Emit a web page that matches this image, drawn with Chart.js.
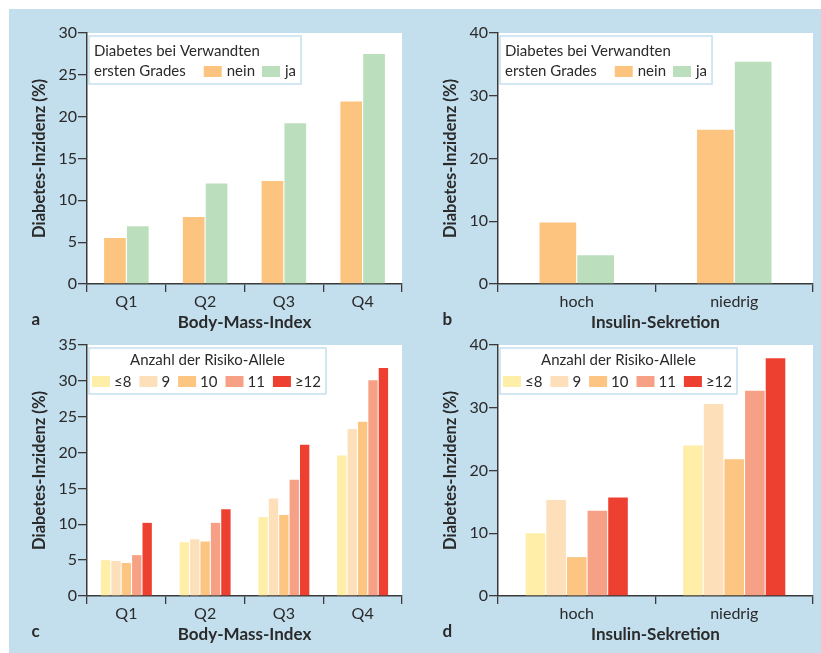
<!DOCTYPE html>
<html>
<head>
<meta charset="utf-8">
<script src="https://cdn.jsdelivr.net/npm/chart.js@4.4.1/dist/chart.umd.min.js"></script>
<style>
  body { margin: 0; background: #ffffff; }
  #wrap { position: relative; width: 821px; height: 653px; overflow: hidden; }
  #bg { position: absolute; left: 9px; top: 9px; width: 812px; height: 644px; background: #c3dfee; }
  .panel { position: absolute; width: 410px; height: 336px; }
</style>
</head>
<body>
<div id="wrap">
  <div id="bg"></div>
  <div class="panel" style="left:0;top:0"><canvas id="chartA" width="410" height="336"></canvas></div>
  <div class="panel" style="left:411px;top:0"><canvas id="chartB" width="410" height="336"></canvas></div>
  <div class="panel" style="left:0;top:312px"><canvas id="chartC" width="410" height="336"></canvas></div>
  <div class="panel" style="left:411px;top:312px"><canvas id="chartD" width="410" height="336"></canvas></div>
</div>
<script>
// Categories
const bmiQuartiles = ['Q1', 'Q2', 'Q3', 'Q4'];
const insulinLevels = ['hoch', 'niedrig'];

// Legend labels
const familyLabels = ['nein', 'ja'];
const familyLegendTitle = ['Diabetes bei Verwandten', 'ersten Grades'];
const alleleLabels = ['≤8', '9', '10', '11', '≥12'];
const alleleLegendTitle = 'Anzahl der Risiko-Allele';

// a: BMI x family history
const bmiNein = [5.5, 8.0, 12.3, 21.8];
const bmiJa = [6.9, 12.0, 19.2, 27.5];

// b: insulin secretion x family history
const insulinNein = [9.8, 24.6];
const insulinJa = [4.6, 35.4];

// c: BMI x risk alleles (one array per allele group)
const bmiAllele8 = [5.0, 7.5, 11.0, 19.6];
const bmiAllele9 = [4.9, 7.9, 13.6, 23.3];
const bmiAllele10 = [4.6, 7.6, 11.3, 24.3];
const bmiAllele11 = [5.7, 10.2, 16.2, 30.1];
const bmiAllele12 = [10.2, 12.1, 21.1, 31.8];

// d: insulin secretion x risk alleles
const insAllele8 = [10.0, 24.0];
const insAllele9 = [15.3, 30.6];
const insAllele10 = [6.2, 21.8];
const insAllele11 = [13.6, 32.7];
const insAllele12 = [15.7, 37.9];

const familyColors = ['#fdc480', '#bbdfbd'];
const alleleColors = ['#feeea8', '#fddfba', '#fdc582', '#f6a186', '#ee4030'];
const textColor = '#2a2a2a';
const axisColor = '#3a3a3a';
const legendBorder = '#c3dfee';

// White plot area, legend box and panel letter
const panelDecor = {
  id: 'panelDecor',
  beforeDraw(chart) {
    const { ctx, chartArea: a } = chart;
    ctx.save();
    ctx.fillStyle = '#ffffff';
    ctx.fillRect(a.left, a.top, a.right - a.left, a.bottom - a.top);
    ctx.restore();
  },
  afterDraw(chart, args, opts) {
    const { ctx, chartArea: a } = chart;
    const sets = chart.data.datasets;
    ctx.save();
    ctx.fillStyle = textColor;
    ctx.textBaseline = 'alphabetic';
    ctx.font = 'bold 17px Lato';
    ctx.fillText(opts.letter, 31.5, 325);

    ctx.font = '15px Lato';
    const x0 = a.left + 2;
    const y0 = a.top + 3;
    if (opts.kind === 'family') {
      const w2 = ctx.measureText(familyLegendTitle[1]).width;
      let rowW = w2 + 18;
      sets.forEach(d => { rowW += 18 + 5 + ctx.measureText(d.label).width + 7; });
      const w = Math.max(ctx.measureText(familyLegendTitle[0]).width, rowW - 7) + 10;
      ctx.fillStyle = '#ffffff';
      ctx.fillRect(x0, y0, w, 48);
      ctx.strokeStyle = legendBorder;
      ctx.lineWidth = 1.5;
      ctx.strokeRect(x0, y0, w, 48);
      ctx.fillStyle = textColor;
      ctx.fillText(familyLegendTitle[0], x0 + 5, y0 + 20);
      ctx.fillText(familyLegendTitle[1], x0 + 5, y0 + 40);
      let x = x0 + 5 + w2 + 18;
      sets.forEach(d => {
        ctx.fillStyle = d.backgroundColor;
        ctx.fillRect(x, y0 + 30, 18, 11);
        x += 23;
        ctx.fillStyle = textColor;
        ctx.fillText(d.label, x, y0 + 40);
        x += ctx.measureText(d.label).width + 7;
      });
    } else {
      let rowW = 0;
      sets.forEach(d => { rowW += 18 + 4 + ctx.measureText(d.label).width + 8; });
      const w = rowW - 8 + 8;
      ctx.fillStyle = '#ffffff';
      ctx.fillRect(x0, y0, w, 46);
      ctx.strokeStyle = legendBorder;
      ctx.lineWidth = 1.5;
      ctx.strokeRect(x0, y0, w, 46);
      ctx.fillStyle = textColor;
      ctx.textAlign = 'center';
      ctx.fillText(alleleLegendTitle, x0 + w / 2, y0 + 17);
      ctx.textAlign = 'left';
      let x = x0 + 3;
      sets.forEach(d => {
        ctx.fillStyle = d.backgroundColor;
        ctx.fillRect(x, y0 + 28, 18, 11);
        x += 22;
        ctx.fillStyle = textColor;
        ctx.fillText(d.label, x, y0 + 39);
        x += ctx.measureText(d.label).width + 8;
      });
    }
    ctx.restore();
  }
};

function makePanel(id, labels, datasets, yMax, yStep, xTitle, letter, kind, catPct, barPct) {
  const ctx = document.getElementById(id);
  datasets.forEach(d => {
    d.categoryPercentage = catPct;
    d.barPercentage = barPct;
    d.borderWidth = 0;
  });
  new Chart(ctx, {
    type: 'bar',
    data: { labels: labels, datasets: datasets },
    plugins: [panelDecor],
    options: {
      responsive: false,
      animation: false,
      devicePixelRatio: 1,
      layout: { padding: { top: 33, right: 8, bottom: 0, left: 0 } },
      scales: {
        x: {
          grid: { offset: true, drawOnChartArea: false, tickLength: 8, color: axisColor, lineWidth: 1.3 },
          border: { color: axisColor, width: 1.5 },
          ticks: { color: textColor, font: { family: 'Lato', size: 16 }, padding: 0 },
          title: {
            display: true,
            text: xTitle,
            color: textColor,
            font: { family: 'Lato', size: 17, weight: 'bold' },
            padding: { top: 0, bottom: 3 }
          },
          afterFit: s => { s.height = 52; }
        },
        y: {
          min: 0,
          max: yMax,
          grid: { drawOnChartArea: false, tickLength: 9, color: axisColor, lineWidth: 1.3 },
          border: { color: axisColor, width: 1.5 },
          ticks: { stepSize: yStep, color: textColor, font: { family: 'Lato', size: 16 }, padding: 1 },
          title: {
            display: true,
            text: 'Diabetes-Inzidenz (%)',
            color: textColor,
            font: { family: 'Lato', size: 16.5, weight: 'bold' },
            padding: { top: 30, bottom: 0 }
          },
          afterFit: s => { s.width = 87; }
        }
      },
      plugins: {
        legend: { display: false },
        tooltip: { enabled: false },
        panelDecor: { letter: letter, kind: kind }
      }
    }
  });
}

document.addEventListener('DOMContentLoaded', function() {
  makePanel('chartA', bmiQuartiles, [
    { label: familyLabels[0], data: bmiNein, backgroundColor: familyColors[0] },
    { label: familyLabels[1], data: bmiJa, backgroundColor: familyColors[1] }
  ], 30, 5, 'Body-Mass-Index', 'a', 'family', 0.58, 0.95);

  makePanel('chartB', insulinLevels, [
    { label: familyLabels[0], data: insulinNein, backgroundColor: familyColors[0] },
    { label: familyLabels[1], data: insulinJa, backgroundColor: familyColors[1] }
  ], 40, 10, 'Insulin-Sekretion', 'b', 'family', 0.48, 0.97);

  const bmiAllele = [bmiAllele8, bmiAllele9, bmiAllele10, bmiAllele11, bmiAllele12];
  makePanel('chartC', bmiQuartiles, alleleLabels.map((l, i) => (
    { label: l, data: bmiAllele[i], backgroundColor: alleleColors[i] }
  )), 35, 5, 'Body-Mass-Index', 'c', 'allele', 0.66, 0.9);

  const insAllele = [insAllele8, insAllele9, insAllele10, insAllele11, insAllele12];
  makePanel('chartD', insulinLevels, alleleLabels.map((l, i) => (
    { label: l, data: insAllele[i], backgroundColor: alleleColors[i] }
  )), 40, 10, 'Insulin-Sekretion', 'd', 'allele', 0.655, 0.95);
});
</script>
</body>
</html>
